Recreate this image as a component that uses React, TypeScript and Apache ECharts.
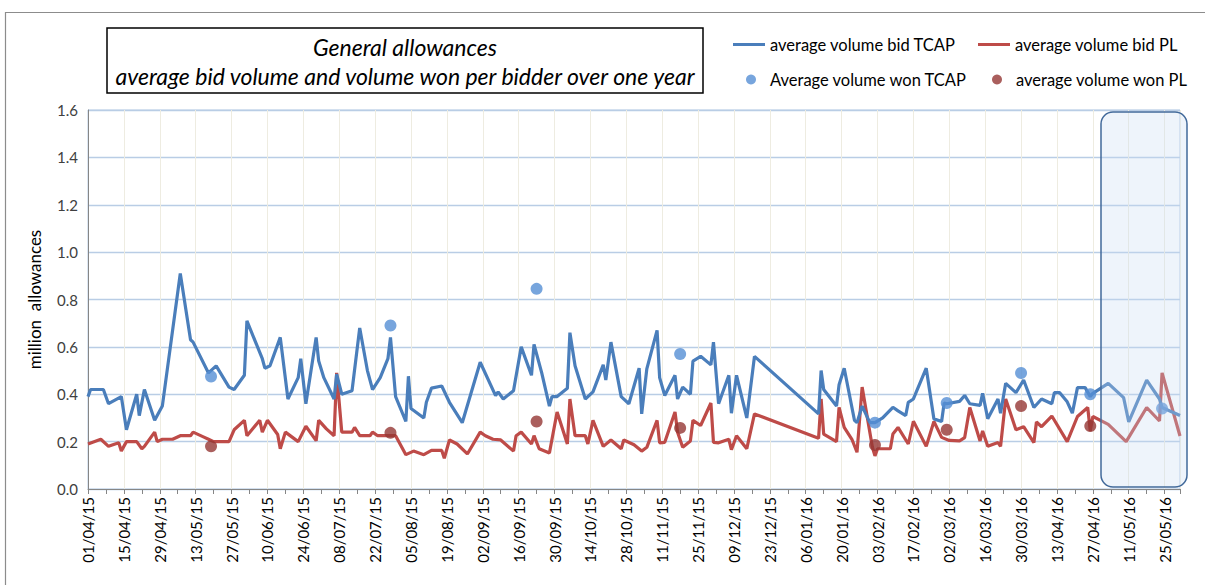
import React, { useEffect, useRef } from "react";
import * as echarts from "echarts";

// Days counted from 01/04/2015
const tcapBidDays = [0, 1, 6, 8, 13, 15, 19, 20, 22, 26, 29, 36, 40, 41, 47, 50, 55, 57, 61, 62, 68, 69, 71, 75, 78, 82, 83, 85, 89, 90, 92, 96, 97, 99, 103, 106, 109, 111, 114, 117, 118, 120, 124, 125, 126, 131, 132, 134, 138, 141, 146, 153, 159, 160, 162, 166, 169, 173, 174, 177, 180, 181, 183, 187, 188, 190, 194, 197, 201, 202, 204, 208, 211, 215, 216, 218, 222, 223, 225, 229, 230, 232, 235, 236, 239, 243, 244, 246, 250, 251, 253, 257, 260, 285, 286, 287, 292, 293, 295, 299, 300, 302, 305, 307, 310, 314, 316, 319, 320, 322, 327, 330, 333, 334, 335, 340, 342, 344, 348, 349, 351, 355, 356, 358, 362, 365, 369, 372, 376, 377, 379, 382, 384, 386, 389, 391, 392, 398, 404, 406, 413, 418, 419, 426];
const tcapBidValues = [0.39, 0.42, 0.42, 0.36, 0.39, 0.25, 0.40, 0.31, 0.42, 0.29, 0.35, 0.91, 0.63, 0.62, 0.49, 0.52, 0.43, 0.42, 0.48, 0.71, 0.55, 0.51, 0.52, 0.64, 0.38, 0.47, 0.55, 0.36, 0.64, 0.54, 0.47, 0.38, 0.485, 0.40, 0.415, 0.68, 0.50, 0.42, 0.47, 0.55, 0.64, 0.39, 0.285, 0.476, 0.34, 0.30, 0.366, 0.426, 0.435, 0.366, 0.28, 0.535, 0.394, 0.41, 0.38, 0.415, 0.60, 0.48, 0.61, 0.49, 0.35, 0.39, 0.39, 0.425, 0.66, 0.52, 0.38, 0.41, 0.524, 0.46, 0.62, 0.39, 0.36, 0.51, 0.317, 0.507, 0.67, 0.47, 0.395, 0.48, 0.38, 0.43, 0.40, 0.54, 0.56, 0.524, 0.62, 0.36, 0.48, 0.32, 0.48, 0.30, 0.56, 0.317, 0.50, 0.42, 0.35, 0.44, 0.51, 0.29, 0.28, 0.35, 0.28, 0.28, 0.30, 0.345, 0.33, 0.31, 0.366, 0.38, 0.51, 0.296, 0.285, 0.363, 0.36, 0.37, 0.395, 0.36, 0.353, 0.404, 0.297, 0.38, 0.32, 0.446, 0.407, 0.46, 0.344, 0.38, 0.36, 0.407, 0.407, 0.368, 0.32, 0.428, 0.428, 0.39, 0.404, 0.446, 0.386, 0.283, 0.46, 0.38, 0.344, 0.31];

const plBidDays = [0, 5, 8, 12, 13, 15, 19, 21, 22, 26, 27, 29, 33, 36, 40, 41, 45, 47, 49, 55, 57, 61, 62, 67, 68, 70, 74, 75, 77, 82, 85, 89, 90, 93, 96, 97, 99, 103, 104, 106, 110, 111, 113, 117, 120, 124, 127, 131, 134, 138, 139, 141, 144, 148, 153, 155, 158, 161, 166, 167, 169, 173, 174, 176, 180, 183, 187, 188, 190, 194, 195, 197, 201, 204, 208, 209, 213, 216, 218, 222, 223, 225, 229, 230, 232, 235, 236, 239, 243, 244, 246, 250, 251, 253, 257, 260, 285, 286, 287, 292, 293, 295, 298, 300, 302, 306, 307, 308, 313, 314, 316, 320, 322, 327, 330, 333, 336, 340, 342, 344, 348, 349, 351, 355, 356, 358, 362, 365, 369, 370, 372, 376, 382, 386, 390, 391, 392, 398, 405, 413, 418, 419, 426];
const plBidValues = [0.19, 0.21, 0.18, 0.195, 0.16, 0.20, 0.20, 0.17, 0.18, 0.24, 0.20, 0.21, 0.21, 0.225, 0.225, 0.24, 0.22, 0.21, 0.20, 0.20, 0.25, 0.29, 0.225, 0.29, 0.24, 0.29, 0.23, 0.17, 0.24, 0.20, 0.265, 0.204, 0.29, 0.254, 0.225, 0.49, 0.24, 0.24, 0.26, 0.225, 0.225, 0.24, 0.225, 0.225, 0.225, 0.145, 0.16, 0.145, 0.163, 0.163, 0.13, 0.207, 0.19, 0.148, 0.24, 0.225, 0.21, 0.207, 0.16, 0.225, 0.24, 0.19, 0.225, 0.17, 0.152, 0.325, 0.19, 0.38, 0.225, 0.225, 0.19, 0.29, 0.18, 0.207, 0.17, 0.207, 0.187, 0.16, 0.176, 0.29, 0.195, 0.197, 0.325, 0.24, 0.176, 0.203, 0.29, 0.268, 0.363, 0.197, 0.195, 0.21, 0.166, 0.225, 0.17, 0.317, 0.214, 0.38, 0.232, 0.20, 0.345, 0.26, 0.21, 0.155, 0.43, 0.176, 0.14, 0.17, 0.17, 0.232, 0.26, 0.19, 0.286, 0.18, 0.285, 0.218, 0.205, 0.203, 0.217, 0.344, 0.203, 0.245, 0.18, 0.196, 0.18, 0.38, 0.25, 0.263, 0.196, 0.283, 0.263, 0.308, 0.20, 0.306, 0.344, 0.245, 0.306, 0.273, 0.20, 0.344, 0.287, 0.49, 0.224];

const tcapWonDays = [48, 118, 175, 231, 307, 335, 364, 391, 419];
const tcapWonValues = [0.475, 0.69, 0.845, 0.57, 0.28, 0.363, 0.49, 0.40, 0.34];
const plWonDays = [48, 118, 175, 231, 307, 335, 364, 391];
const plWonValues = [0.18, 0.237, 0.285, 0.258, 0.186, 0.25, 0.35, 0.266];

const yTicks = [0, 0.2, 0.4, 0.6, 0.8, 1.0, 1.2, 1.4, 1.6];

const START = Date.UTC(2015, 3, 1);
const pad = (n: number) => (n < 10 ? "0" + n : "" + n);
const fmtDay = (d: number) => {
  const dt = new Date(START + d * 86400000);
  return pad(dt.getUTCDate()) + "/" + pad(dt.getUTCMonth() + 1) + "/" + pad(dt.getUTCFullYear() % 100);
};
const pairs = (xs: number[], ys: number[]) => xs.map((x, i) => [x, ys[i]]);

const FONT = "Lato";

export default function App() {
  const ref = useRef<HTMLDivElement>(null);
  useEffect(() => {
    document.body.style.margin = "0";
    const chart = echarts.init(ref.current!, undefined, { renderer: "svg" });
    const legendText = { fontFamily: FONT, fontSize: 16.5, color: "#000" };
    chart.setOption({
      animation: false,
      backgroundColor: "#fff",
      grid: { left: 88, right: 25, top: 110, bottom: 96, show: true, borderColor: "#b9cde5", borderWidth: 1 },
      legend: [
        { data: ["average volume bid TCAP"], left: 733, top: 36, padding: 0, itemWidth: 32, itemHeight: 3, icon: "rect", textStyle: legendText },
        { data: ["average volume bid PL"], left: 978, top: 36, padding: 0, itemWidth: 32, itemHeight: 3, icon: "rect", textStyle: legendText },
        { data: ["Average volume won TCAP"], left: 746, top: 71, padding: 0, itemWidth: 10, itemHeight: 10, icon: "circle", textStyle: { ...legendText, padding: [0, 0, 0, 9] } },
        { data: ["average volume won PL"], left: 992, top: 71, padding: 0, itemWidth: 10, itemHeight: 10, icon: "circle", textStyle: { ...legendText, padding: [0, 0, 0, 9] } },
      ],
      xAxis: {
        type: "value",
        min: 0,
        max: 426,
        interval: 14,
        axisLine: { lineStyle: { color: "#868686", width: 1 } },
        axisTick: { show: true, length: 5, lineStyle: { color: "#868686" } },
        minorTick: { show: true, splitNumber: 2, length: 5, lineStyle: { color: "#868686" } },
        splitLine: { show: true, lineStyle: { color: "#eeece1", width: 1 } },
        axisLabel: {
          rotate: 90,
          margin: 8,
          fontFamily: FONT,
          fontSize: 15,
          color: "#000",
          formatter: (v: number) => (v % 14 === 0 ? fmtDay(v) : ""),
        },
      },
      yAxis: {
        type: "value",
        min: 0,
        max: 1.6,
        interval: 0.2,
        name: "million  allowances",
        nameLocation: "middle",
        nameGap: 45,
        nameRotate: 90,
        nameTextStyle: { fontFamily: FONT, fontSize: 17, color: "#000" },
        axisLine: { show: true, lineStyle: { color: "#868686" } },
        axisTick: { show: false },
        splitLine: { show: true, lineStyle: { color: "#b9cde5", width: 1.3 } },
        axisLabel: {
          fontFamily: FONT,
          fontSize: 15,
          color: "#404040",
          margin: 10,
          formatter: (v: number) => (yTicks.some((t) => Math.abs(t - v) < 1e-6) ? v.toFixed(1) : ""),
        },
      },
      series: [
        {
          name: "average volume bid TCAP",
          type: "line",
          data: pairs(tcapBidDays, tcapBidValues),
          symbol: "none",
          color: "#4a7ebb",
          lineStyle: { width: 3.2, color: "#4a7ebb" },
          z: 3,
        },
        {
          name: "average volume bid PL",
          type: "line",
          data: pairs(plBidDays, plBidValues),
          symbol: "none",
          color: "#be4b48",
          lineStyle: { width: 3.2, color: "#be4b48" },
          z: 2,
        },
        {
          name: "Average volume won TCAP",
          type: "scatter",
          data: pairs(tcapWonDays, tcapWonValues),
          symbol: "circle",
          symbolSize: 12,
          itemStyle: { color: "#558ed5" },
          z: 4,
        },
        {
          name: "average volume won PL",
          type: "scatter",
          data: pairs(plWonDays, plWonValues),
          symbol: "circle",
          symbolSize: 12,
          itemStyle: { color: "#953735" },
          z: 4,
        },
      ],
      graphic: [
        {
          type: "rect",
          z: 0,
          silent: true,
          shape: { x: 5.5, y: 12.5, width: 1400, height: 800 },
          style: { fill: "none", stroke: "#8c8c8c", lineWidth: 1.2 },
        },
        {
          type: "rect",
          z: 10,
          silent: true,
          shape: { x: 107, y: 28, width: 596, height: 65 },
          style: { fill: "#fff", stroke: "#000", lineWidth: 1.5 },
        },
        {
          type: "text",
          z: 11,
          silent: true,
          x: 405,
          y: 47,
          style: { text: "General allowances", fontFamily: FONT, fontStyle: "italic", fontSize: 23, fill: "#000", align: "center", verticalAlign: "middle" },
        },
        {
          type: "text",
          z: 11,
          silent: true,
          x: 405,
          y: 76,
          style: { text: "average bid volume and volume won per bidder over one year", fontFamily: FONT, fontStyle: "italic", fontSize: 23, fill: "#000", align: "center", verticalAlign: "middle" },
        },
        {
          type: "rect",
          z: 10,
          silent: true,
          shape: { x: 1101, y: 112, width: 86, height: 375, r: 12 },
          style: { fill: "rgba(198,217,241,0.3)", stroke: "#41699a", lineWidth: 1.5 },
        },
      ],
    });
    return () => chart.dispose();
  }, []);
  return <div ref={ref} style={{ width: 1205, height: 585 }} />;
}
